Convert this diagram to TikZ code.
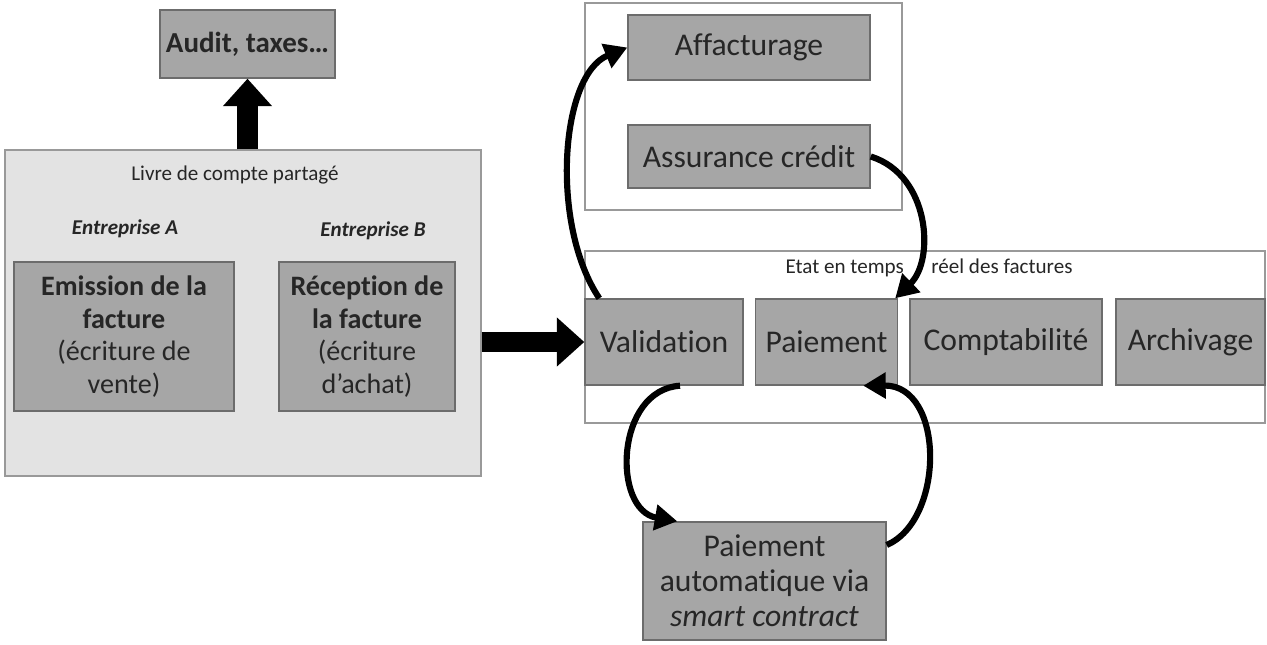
\documentclass[tikz,border=0pt]{standalone}
\usepackage{fontspec}
\setmainfont[Ligatures=NoCommon]{Carlito}
\usetikzlibrary{arrows.meta}

\begin{document}
\begin{tikzpicture}[x=0.02cm,y=-0.02cm,
                    box/.style={draw=gray!85!black,fill=gray!70,line width=0.8pt,inner sep=0pt,align=center,text=black!85,font=\fontsize{18}{20}\selectfont},
                    frame/.style={draw=gray!80,line width=0.8pt,inner sep=0pt},
                    small/.style={font=\fontsize{12}{14}\selectfont,text=black!85},
                    fat arrow/.style={line width=11.5pt,-{Triangle[length=0.55cm,width=0.95cm]}},
                    bent arrow/.style={line width=3.5pt,-{Triangle[length=0.45cm,width=0.5cm]}}]
	\useasboundingbox (0,0) rectangle (1267,645);

	% ledger side
	\node[frame,fill=gray!22,minimum width=476*0.02cm,minimum height=326*0.02cm] (livre) at (243,313) {};
	\node[small] (livretitle) at (235,175) {Livre de compte partagé};
	\node[small,font=\fontsize{12}{14}\selectfont\bfseries\itshape] (entA) at (125,229) {Entreprise A};
	\node[small,font=\fontsize{12}{14}\selectfont\bfseries\itshape] (entB) at (373,231) {Entreprise B};
	\node[box,font=\fontsize{16}{18.5}\selectfont,minimum width=220*0.02cm,minimum height=149*0.02cm] (emission) at (124,336.5)
		{\textbf{Emission de la}\\\textbf{facture}\\(écriture de\\vente)};
	\node[box,font=\fontsize{16}{18.5}\selectfont,minimum width=176*0.02cm,minimum height=149*0.02cm] (reception) at (367,336.5)
		{\textbf{Réception de}\\\textbf{la facture}\\(écriture\\d’achat)};
	\node[box,font=\fontsize{16.5}{19}\selectfont\bfseries,minimum width=175*0.02cm,minimum height=68*0.02cm] (audit) at (247.5,44) {Audit, taxes\dots};

	% financing services
	\node[frame,minimum width=317*0.02cm,minimum height=207*0.02cm] (services) at (743.5,106.5) {};
	\node[box,minimum width=242*0.02cm,minimum height=65*0.02cm] (affact) at (749,47.5) {Affacturage};
	\node[box,minimum width=242*0.02cm,minimum height=63*0.02cm] (assur) at (749,156.5) {Assurance crédit};

	% invoice status
	\node[frame,minimum width=680*0.02cm,minimum height=172*0.02cm] (etat) at (925,337) {};
	\node[small] (etattitle) at (929,268) {Etat en temps\hspace{0.55cm}réel des factures};
	\node[box,minimum width=158*0.02cm,minimum height=86*0.02cm] (valid) at (664,342) {Validation};
	\node[box,minimum width=142*0.02cm,minimum height=86*0.02cm] (paiem) at (826.5,342) {Paiement};
	\node[box,minimum width=192*0.02cm,minimum height=86*0.02cm] (compta) at (1006,342) {Comptabilité};
	\node[box,minimum width=149*0.02cm,minimum height=86*0.02cm] (archiv) at (1190.5,342) {Archivage};
	\node[box,minimum width=243*0.02cm,minimum height=118*0.02cm] (auto) at (764.5,581)
		{Paiement\\automatique via\\\textit{smart contract}};

	% straight arrows
	\draw[fat arrow] (livre.north -| audit) -- (audit.south);
	\draw[fat arrow] (valid.west -| livre.east) -- (valid.west);

	% bent arrows
	\draw[bent arrow] ([xshift=15*0.02cm]valid.north west) .. controls (550,225) and (560,75) .. (affact.west);
	\draw[bent arrow] (assur.east) .. controls (930,175) and (935,260) .. ([xshift=-3*0.02cm]paiem.north east);
	\draw[bent arrow] ([xshift=16*0.02cm]valid.south) .. controls (615,390) and (612,510) .. ([xshift=35*0.02cm]auto.north west);
	\draw[bent arrow] ([yshift=36*0.02cm]auto.east) .. controls (945,520) and (945,385) .. ([xshift=-35*0.02cm]paiem.south east);
\end{tikzpicture}
\end{document}
